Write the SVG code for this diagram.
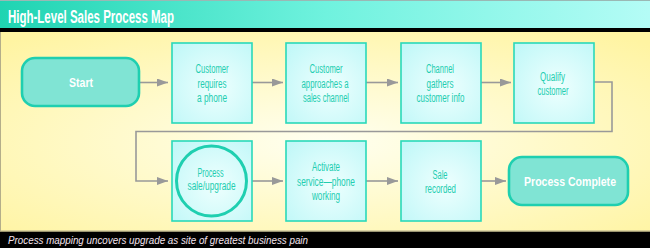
<svg xmlns="http://www.w3.org/2000/svg" width="650" height="248" viewBox="0 0 650 248">
<defs>
<linearGradient id="tg" x1="0" y1="0" x2="1" y2="0">
<stop offset="0" stop-color="#1fd4b2"/>
<stop offset="0.5" stop-color="#6ff2de"/>
<stop offset="1" stop-color="#b4fcf6"/>
</linearGradient>
<radialGradient id="yg" cx="0.5" cy="0.55" r="0.7">
<stop offset="0" stop-color="#fffff0"/>
<stop offset="1" stop-color="#fff4a2"/>
</radialGradient>
<radialGradient id="bg" cx="0.55" cy="0.55" r="0.7">
<stop offset="0" stop-color="#eefffe"/>
<stop offset="1" stop-color="#c2f8f8"/>
</radialGradient>
<marker id="ah" viewBox="0 0 11 8" refX="11" refY="4" markerWidth="11" markerHeight="8" markerUnits="userSpaceOnUse" orient="auto">
<path d="M0,0 L11,4 L0,8 Z" fill="#999999"/>
</marker>
<style>
.box{fill:url(#bg);stroke:#2ad9b9;stroke-width:1.6}
.term{fill:#80e4d4;stroke:#1fcfb0;stroke-width:2.6}
.lbl{font-family:"Liberation Sans Narrow","Liberation Sans",Arial,sans-serif;font-size:12px;fill:#22cdb0;text-anchor:middle}
.tl{font-family:"Liberation Sans Narrow","Liberation Sans",Arial,sans-serif;font-size:13.5px;font-weight:bold;fill:#ffffff;text-anchor:middle}
.con{fill:none;stroke:#999999;stroke-width:1.6}
</style>
</defs>
<rect x="0" y="0" width="650" height="248" fill="#000000"/>
<rect x="0" y="0" width="650" height="28" fill="url(#tg)"/>
<line x1="0" y1="0.5" x2="650" y2="0.5" stroke="#9ab8b4" stroke-width="1"/>
<text x="8" y="23" font-family="'Liberation Sans Narrow','Liberation Sans',Arial,sans-serif" font-size="18" font-weight="bold" fill="#ffffff" textLength="166" lengthAdjust="spacingAndGlyphs">High-Level Sales Process Map</text>
<rect x="0" y="32" width="650" height="199.5" fill="url(#yg)"/>
<line x1="0.5" y1="32" x2="0.5" y2="231" stroke="#b4ae8a" stroke-width="1"/>
<line x1="0" y1="231" x2="650" y2="231" stroke="#b4ae8a" stroke-width="1"/>
<text x="8" y="244" font-family="'Liberation Sans','DejaVu Sans',sans-serif" font-size="11" font-style="italic" fill="#f4e4ee" textLength="300" lengthAdjust="spacingAndGlyphs">Process mapping uncovers upgrade as site of greatest business pain</text>

<g id="connectors">
<line class="con" x1="139" y1="82.5" x2="168" y2="82.5" marker-end="url(#ah)"/>
<line class="con" x1="252" y1="82.5" x2="283" y2="82.5" marker-end="url(#ah)"/>
<line class="con" x1="366" y1="82.5" x2="398" y2="82.5" marker-end="url(#ah)"/>
<line class="con" x1="481" y1="82.5" x2="511" y2="82.5" marker-end="url(#ah)"/>
<polyline class="con" points="594,82 612,82 612,131.5 136,131.5 136,181 168,181" marker-end="url(#ah)"/>
<line class="con" x1="252" y1="181" x2="283" y2="181" marker-end="url(#ah)"/>
<line class="con" x1="366" y1="181" x2="398" y2="181" marker-end="url(#ah)"/>
<line class="con" x1="481" y1="181" x2="506" y2="181" marker-end="url(#ah)"/>
</g>

<g id="start">
<rect class="term" x="22" y="58" width="117" height="48" rx="13"/>
<text class="tl" x="81" y="87" textLength="24" lengthAdjust="spacingAndGlyphs">Start</text>
</g>
<g id="n1">
<rect class="box" x="172" y="43" width="80" height="80"/>
<text class="lbl" x="212" y="73" textLength="33" lengthAdjust="spacingAndGlyphs">Customer</text>
<text class="lbl" x="212" y="87.5" textLength="29" lengthAdjust="spacingAndGlyphs">requires</text>
<text class="lbl" x="212" y="102" textLength="30" lengthAdjust="spacingAndGlyphs">a phone</text>
</g>
<g id="n2">
<rect class="box" x="286" y="43" width="80" height="80"/>
<text class="lbl" x="326" y="73" textLength="33" lengthAdjust="spacingAndGlyphs">Customer</text>
<text class="lbl" x="325" y="87.5" textLength="47" lengthAdjust="spacingAndGlyphs">approaches a</text>
<text class="lbl" x="326" y="102" textLength="46" lengthAdjust="spacingAndGlyphs">sales channel</text>
</g>
<g id="n3">
<rect class="box" x="401" y="43" width="80" height="80"/>
<text class="lbl" x="440" y="73" textLength="28" lengthAdjust="spacingAndGlyphs">Channel</text>
<text class="lbl" x="440" y="87.5" textLength="27" lengthAdjust="spacingAndGlyphs">gathers</text>
<text class="lbl" x="440.5" y="102" textLength="48" lengthAdjust="spacingAndGlyphs">customer info</text>
</g>
<g id="n4">
<rect class="box" x="514" y="43" width="80" height="80"/>
<text class="lbl" x="552.5" y="80.5" textLength="25" lengthAdjust="spacingAndGlyphs">Qualify</text>
<text class="lbl" x="553" y="94.5" textLength="31" lengthAdjust="spacingAndGlyphs">customer</text>
</g>
<g id="n5">
<rect class="box" x="172" y="141" width="80" height="80"/>
<circle cx="211.5" cy="181" r="35" fill="none" stroke="#1fcfb0" stroke-width="3"/>
<text class="lbl" x="210.5" y="176.5" textLength="26" lengthAdjust="spacingAndGlyphs">Process</text>
<text class="lbl" x="211.5" y="190" textLength="48" lengthAdjust="spacingAndGlyphs">sale/upgrade</text>
</g>
<g id="n6">
<rect class="box" x="286" y="141" width="80" height="80"/>
<text class="lbl" x="326" y="171" textLength="28" lengthAdjust="spacingAndGlyphs">Activate</text>
<text class="lbl" x="326" y="185.5" textLength="58" lengthAdjust="spacingAndGlyphs">service—phone</text>
<text class="lbl" x="326" y="200" textLength="28" lengthAdjust="spacingAndGlyphs">working</text>
</g>
<g id="n7">
<rect class="box" x="401" y="141" width="80" height="80"/>
<text class="lbl" x="440" y="178.5" textLength="15" lengthAdjust="spacingAndGlyphs">Sale</text>
<text class="lbl" x="440.5" y="192.5" textLength="31" lengthAdjust="spacingAndGlyphs">recorded</text>
</g>
<g id="end">
<rect class="term" x="509" y="157" width="119" height="48" rx="13"/>
<text class="tl" x="570" y="186" textLength="92" lengthAdjust="spacingAndGlyphs">Process Complete</text>
</g>
</svg>
